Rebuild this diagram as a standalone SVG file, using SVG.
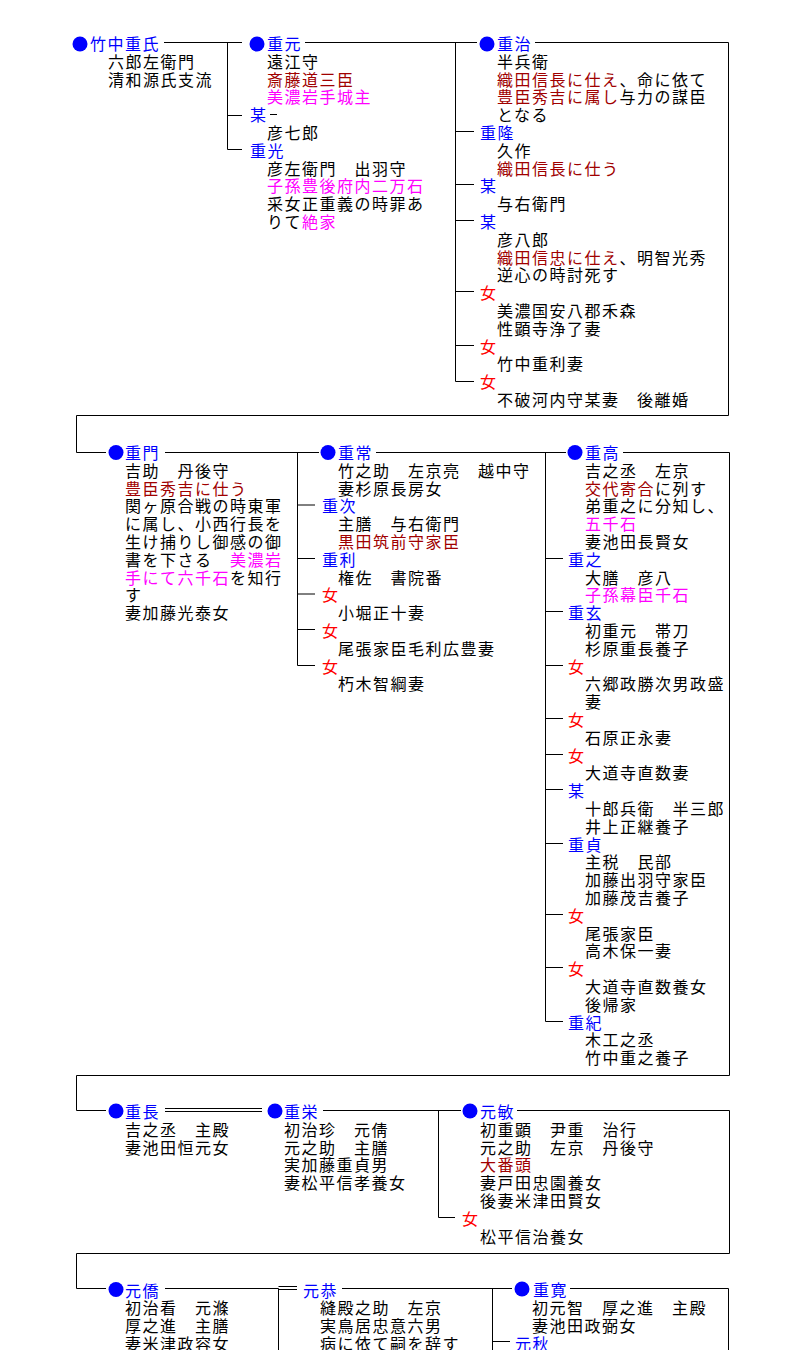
<svg xmlns="http://www.w3.org/2000/svg" width="794" height="1350" viewBox="0 0 794 1350">
<style>
.t{font-family:"Noto Sans CJK JP","Noto Sans CJK SC",sans-serif;font-size:16px;letter-spacing:1.5px;fill:#000}
.b{fill:#0000ff}.r{fill:#ff0000}.dr{fill:#a00000}.mg{fill:#ff00ff}
.dot{fill:#0000ff}
.ln{stroke:#000;stroke-width:1;fill:none}
</style>
<rect width="794" height="1350" fill="#fff"/>
<g id="connectors" class="ln">
<path d="M164 42.5H242M227.5 42.5V149.5M227.5 115.5H242M227.5 149.5H242"/>
<path d="M305 42.5H477M455.5 42.5V381.5M455.5 131.5H474M455.5 184.5H474M455.5 220.5H474M455.5 291.5H474M455.5 345.5H474M455.5 381.5H474"/>
<path d="M535 42.5H728.5V415.5H76.5V452.5H106"/>
<path d="M165 452.5H319M297.5 452.5V665.5M297.5 505H315M297.5 558.5H315M297.5 594H315M297.5 629.5H315M297.5 665.5H315"/>
<path d="M376 452.5H566M545.5 452.5V1021.5M545.5 558.5H563M545.5 611.5H563M545.5 665.5H563M545.5 718.5H563M545.5 754.5H563M545.5 789.5H563M545.5 843.5H563M545.5 914.5H563M545.5 967.5H563M545.5 1021.5H563"/>
<path d="M623 452.5H729.5V1075.5H76.5V1110.5H106"/>
<path d="M165 1108.5H262M165 1111.5H262"/>
<path d="M323 1110.5H461M438.5 1110.5V1217.5H455"/>
<path d="M517 1110.5H729.5V1253.5H76.5V1288.5H106"/>
<path d="M165 1288.5H278.5M278.5 1288.5V1350M278.5 1286.5H297M278.5 1289.5H297"/>
<path d="M342 1288.5H512M492.5 1288.5V1350M492.5 1341.5H510"/>
<path d="M570 1288.5H728.5V1350"/>
</g>

<g id="n-shigeuji">
<circle class="dot" cx="80" cy="44" r="7.5"/>
<text class="t"><tspan class="b" x="90" y="50">竹中重氏</tspan><tspan x="108" dy="17.8">六郎左衛門</tspan><tspan x="108" dy="17.8">清和源氏支流</tspan></text>
</g>
<g id="n-shigemoto">
<circle class="dot" cx="257" cy="44" r="7.5"/>
<text class="t"><tspan class="b" x="267" y="50">重元</tspan><tspan x="267" dy="17.8">遠江守</tspan><tspan class="dr" x="267" dy="17.8">斎藤道三臣</tspan><tspan class="mg" x="267" dy="17.8">美濃岩手城主</tspan></text>
</g>
<g id="n-bou1">
<text class="t"><tspan class="b" x="250" y="121.2">某</tspan><tspan x="267" dy="17.8">彦七郎</tspan></text>
<path class="ln" d="M270 114.5H277"/>
</g>
<g id="n-shigemitsu">
<text class="t"><tspan class="b" x="250" y="156.8">重光</tspan><tspan x="267" dy="17.8">彦左衛門　出羽守</tspan><tspan class="mg" x="267" dy="17.8">子孫豊後府内二万石</tspan><tspan x="267" dy="17.8">采女正重義の時罪あ</tspan><tspan x="267" dy="17.8">りて</tspan><tspan class="mg">絶家</tspan></text>
</g>
<g id="n-shigeharu">
<circle class="dot" cx="487" cy="44" r="7.5"/>
<text class="t"><tspan class="b" x="497" y="50">重治</tspan><tspan x="497" dy="17.8">半兵衛</tspan><tspan class="dr" x="497" dy="17.8">織田信長に仕え</tspan><tspan>、命に依て</tspan><tspan class="dr" x="497" dy="17.8">豊臣秀吉に属し</tspan><tspan>与力の謀臣</tspan><tspan x="497" dy="17.8">となる</tspan></text>
</g>
<g id="n-shigetaka1">
<text class="t"><tspan class="b" x="480" y="139">重隆</tspan><tspan x="497" dy="17.8">久作</tspan><tspan class="dr" x="497" dy="17.8">織田信長に仕う</tspan></text>
</g>
<g id="n-bou2">
<text class="t"><tspan class="b" x="480" y="192.4">某</tspan><tspan x="497" dy="17.8">与右衛門</tspan></text>
</g>
<g id="n-bou3">
<text class="t"><tspan class="b" x="480" y="228">某</tspan><tspan x="497" dy="17.8">彦八郎</tspan><tspan class="dr" x="497" dy="17.8">織田信忠に仕え</tspan><tspan>、明智光秀</tspan><tspan x="497" dy="17.8">逆心の時討死す</tspan></text>
</g>
<g id="n-onna1">
<text class="t"><tspan class="r" x="480" y="299.2">女</tspan><tspan x="497" dy="17.8">美濃国安八郡禾森</tspan><tspan x="497" dy="17.8">性顕寺浄了妻</tspan></text>
</g>
<g id="n-onna2">
<text class="t"><tspan class="r" x="480" y="352.6">女</tspan><tspan x="497" dy="17.8">竹中重利妻</tspan></text>
</g>
<g id="n-onna3">
<text class="t"><tspan class="r" x="480" y="388.2">女</tspan><tspan x="497" dy="17.8">不破河内守某妻　後離婚</tspan></text>
</g>

<g id="n-shigekado">
<circle class="dot" cx="116" cy="452.5" r="7.5"/>
<text class="t"><tspan class="b" x="125" y="459">重門</tspan><tspan x="125" dy="17.8">吉助　丹後守</tspan><tspan class="dr" x="125" dy="17.8">豊臣秀吉に仕う</tspan><tspan x="125" dy="17.8">関ヶ原合戦の時東軍</tspan><tspan x="125" dy="17.8">に属し、小西行長を</tspan><tspan x="125" dy="17.8">生け捕りし御感の御</tspan><tspan x="125" dy="17.8">書を下さる　</tspan><tspan class="mg">美濃岩</tspan><tspan class="mg" x="125" dy="17.8">手にて六千石</tspan><tspan>を知行</tspan><tspan x="125" dy="17.8">す</tspan><tspan x="125" dy="17.8">妻加藤光泰女</tspan></text>
</g>
<g id="n-shigetsune">
<circle class="dot" cx="328" cy="452.5" r="7.5"/>
<text class="t"><tspan class="b" x="338" y="459">重常</tspan><tspan x="338" dy="17.8">竹之助　左京亮　越中守</tspan><tspan x="338" dy="17.8">妻杉原長房女</tspan></text>
</g>
<g id="n-shigetsugu">
<text class="t"><tspan class="b" x="322" y="512.4">重次</tspan><tspan x="338" dy="17.8">主膳　与右衛門</tspan><tspan class="dr" x="338" dy="17.8">黒田筑前守家臣</tspan></text>
</g>
<g id="n-shigetoshi">
<text class="t"><tspan class="b" x="322" y="565.8">重利</tspan><tspan x="338" dy="17.8">権佐　書院番</tspan></text>
</g>
<g id="n-onna4">
<text class="t"><tspan class="r" x="322" y="601.4">女</tspan><tspan x="338" dy="17.8">小堀正十妻</tspan></text>
</g>
<g id="n-onna5">
<text class="t"><tspan class="r" x="322" y="637">女</tspan><tspan x="338" dy="17.8">尾張家臣毛利広豊妻</tspan></text>
</g>
<g id="n-onna6">
<text class="t"><tspan class="r" x="322" y="672.6">女</tspan><tspan x="338" dy="17.8">朽木智綱妻</tspan></text>
</g>
<g id="n-shigetaka2">
<circle class="dot" cx="575" cy="452.5" r="7.5"/>
<text class="t"><tspan class="b" x="585" y="459">重高</tspan><tspan x="585" dy="17.8">吉之丞　左京</tspan><tspan class="dr" x="585" dy="17.8">交代寄合</tspan><tspan>に列す</tspan><tspan x="585" dy="17.8">弟重之に分知し、</tspan><tspan class="mg" x="585" dy="17.8">五千石</tspan><tspan x="585" dy="17.8">妻池田長賢女</tspan></text>
</g>
<g id="n-shigeyuki">
<text class="t"><tspan class="b" x="568" y="565.8">重之</tspan><tspan x="585" dy="17.8">大膳　彦八</tspan><tspan class="mg" x="585" dy="17.8">子孫幕臣千石</tspan></text>
</g>
<g id="n-shigeharu2">
<text class="t"><tspan class="b" x="568" y="619.2">重玄</tspan><tspan x="585" dy="17.8">初重元　帯刀</tspan><tspan x="585" dy="17.8">杉原重長養子</tspan></text>
</g>
<g id="n-onna7">
<text class="t"><tspan class="r" x="568" y="672.6">女</tspan><tspan x="585" dy="17.8">六郷政勝次男政盛</tspan><tspan x="585" dy="17.8">妻</tspan></text>
</g>
<g id="n-onna8">
<text class="t"><tspan class="r" x="568" y="726">女</tspan><tspan x="585" dy="17.8">石原正永妻</tspan></text>
</g>
<g id="n-onna9">
<text class="t"><tspan class="r" x="568" y="761.6">女</tspan><tspan x="585" dy="17.8">大道寺直数妻</tspan></text>
</g>
<g id="n-bou4">
<text class="t"><tspan class="b" x="568" y="797.2">某</tspan><tspan x="585" dy="17.8">十郎兵衛　半三郎</tspan><tspan x="585" dy="17.8">井上正継養子</tspan></text>
</g>
<g id="n-shigesada">
<text class="t"><tspan class="b" x="568" y="850.6">重貞</tspan><tspan x="585" dy="17.8">主税　民部</tspan><tspan x="585" dy="17.8">加藤出羽守家臣</tspan><tspan x="585" dy="17.8">加藤茂吉養子</tspan></text>
</g>
<g id="n-onna10">
<text class="t"><tspan class="r" x="568" y="921.8">女</tspan><tspan x="585" dy="17.8">尾張家臣</tspan><tspan x="585" dy="17.8">高木保一妻</tspan></text>
</g>
<g id="n-onna11">
<text class="t"><tspan class="r" x="568" y="975.2">女</tspan><tspan x="585" dy="17.8">大道寺直数養女</tspan><tspan x="585" dy="17.8">後帰家</tspan></text>
</g>
<g id="n-shigenori">
<text class="t"><tspan class="b" x="568" y="1028.6">重紀</tspan><tspan x="585" dy="17.8">木工之丞</tspan><tspan x="585" dy="17.8">竹中重之養子</tspan></text>
</g>

<g id="n-shigenaga">
<circle class="dot" cx="116" cy="1111" r="7.5"/>
<text class="t"><tspan class="b" x="125" y="1118">重長</tspan><tspan x="125" dy="17.8">吉之丞　主殿</tspan><tspan x="125" dy="17.8">妻池田恒元女</tspan></text>
</g>
<g id="n-shigeyoshi">
<circle class="dot" cx="275" cy="1111" r="7.5"/>
<text class="t"><tspan class="b" x="284" y="1118">重栄</tspan><tspan x="284" dy="17.8">初治珍　元倩</tspan><tspan x="284" dy="17.8">元之助　主膳</tspan><tspan x="284" dy="17.8">実加藤重貞男</tspan><tspan x="284" dy="17.8">妻松平信孝養女</tspan></text>
</g>
<g id="n-mototoshi">
<circle class="dot" cx="470" cy="1111" r="7.5"/>
<text class="t"><tspan class="b" x="480" y="1118">元敏</tspan><tspan x="480" dy="17.8">初重顕　尹重　治行</tspan><tspan x="480" dy="17.8">元之助　左京　丹後守</tspan><tspan class="dr" x="480" dy="17.8">大番頭</tspan><tspan x="480" dy="17.8">妻戸田忠園養女</tspan><tspan x="480" dy="17.8">後妻米津田賢女</tspan></text>
</g>
<g id="n-onna12">
<text class="t"><tspan class="r" x="462" y="1224.8">女</tspan><tspan x="480" dy="17.8">松平信治養女</tspan></text>
</g>

<g id="n-motokyo">
<circle class="dot" cx="116" cy="1289.5" r="7.5"/>
<text class="t"><tspan class="b" x="125" y="1296.5">元僑</tspan><tspan x="125" dy="17.8">初治看　元滌</tspan><tspan x="125" dy="17.8">厚之進　主膳</tspan><tspan x="125" dy="17.8">妻米津政容女</tspan></text>
</g>
<g id="n-motoyasu">
<text class="t"><tspan class="b" x="303" y="1296.5">元恭</tspan><tspan x="320" dy="17.8">縫殿之助　左京</tspan><tspan x="320" dy="17.8">実鳥居忠意六男</tspan><tspan x="320" dy="17.8">病に依て嗣を辞す</tspan></text>
</g>
<g id="n-shigehiro">
<circle class="dot" cx="522" cy="1289" r="7.5"/>
<text class="t"><tspan class="b" x="533" y="1296">重寛</tspan><tspan x="532" dy="17.8">初元智　厚之進　主殿</tspan><tspan x="532" dy="17.8">妻池田政弼女</tspan></text>
</g>
<g id="n-motoaki">
<text class="t"><tspan class="b" x="515" y="1349.5">元秋</tspan></text>
</g>
</svg>
